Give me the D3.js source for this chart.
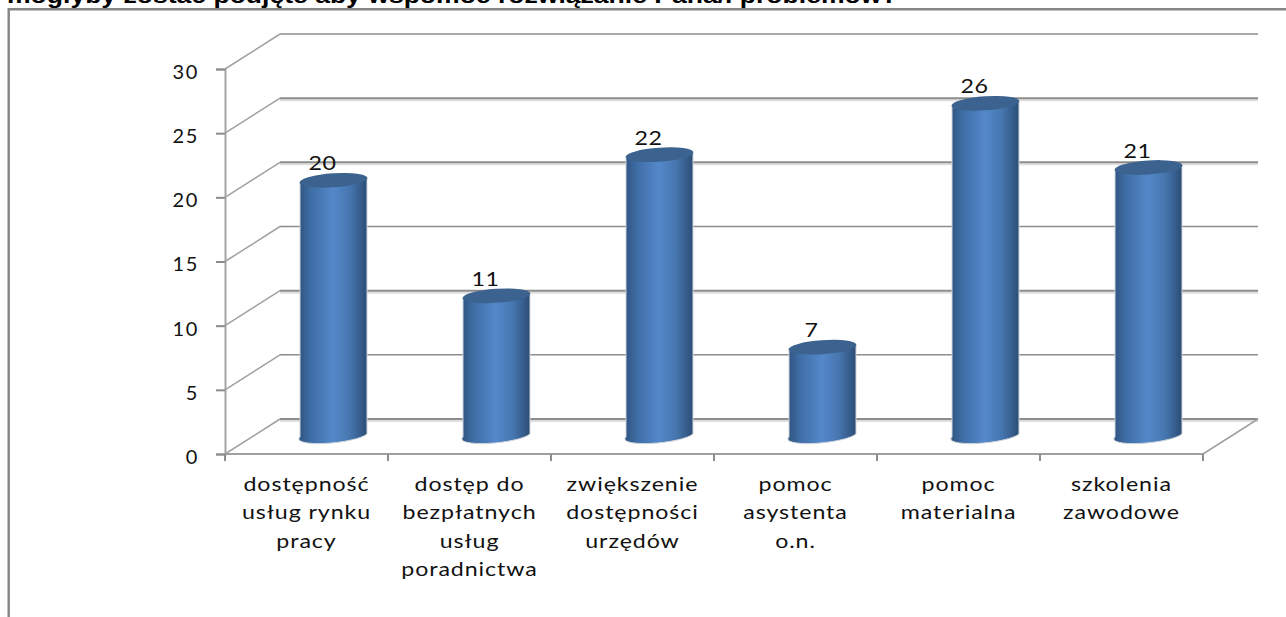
<!DOCTYPE html>
<html>
<head>
<meta charset="utf-8">
<script src="https://cdnjs.cloudflare.com/ajax/libs/d3/7.8.5/d3.min.js"></script>
<style>
  html, body { margin: 0; padding: 0; background: #fff; overflow: hidden; }
  text { font-family: "Lato", "Open Sans", sans-serif; fill: #111; }
</style>
</head>
<body>
<svg id="chart" width="1286" height="617"></svg>
<script>
const categories = [
  ["dostępność", "usług rynku", "pracy"],
  ["dostęp do", "bezpłatnych", "usług", "poradnictwa"],
  ["zwiększenie", "dostępności", "urzędów"],
  ["pomoc", "asystenta", "o.n."],
  ["pomoc", "materialna"],
  ["szkolenia", "zawodowe"]
];
const values = [20, 11, 22, 7, 26, 21];
const yTicks = [0, 5, 10, 15, 20, 25, 30];
const heavyTicks = [0, 10, 20, 25];
const title = "mogłyby zostać podjęte aby wspomóc rozwiązanie Pana/i problemów?";

const svg = d3.select("#chart");
const axisColor = "#8c8c8c";
// depth of the 3d floor
const depthX = 55, depthY = -35;
// the original picture is stretched sideways
const stretch = 1.16;

const x = d3.scaleBand().domain(d3.range(categories.length)).range([225, 1203]);
const y = d3.scaleLinear().domain([0, 30]).range([454, 69]);

// title, clipped by the top of the page
svg.append("text")
    .attr("transform", "translate(7,3) scale(1.18,1)")
    .style("font-family", "Liberation Sans")
    .style("font-weight", "bold")
    .style("font-size", "22.5px")
    .style("fill", "#000")
    .text(title);

// outer frame
svg.append("path")
    .attr("d", "M8.7,617V9.3H1286")
    .attr("fill", "none").attr("stroke", "#868686").attr("stroke-width", 2.4);

// cylinder shading
const defs = svg.append("defs");
const grad = defs.append("linearGradient").attr("id", "cyl");
[[0, "#2f5480"], [0.18, "#3f6ea6"], [0.5, "#5488ca"], [0.75, "#4676af"], [1, "#2c4d76"]]
  .forEach(s => grad.append("stop").attr("offset", s[0]).attr("stop-color", s[1]));

// walls: gridlines on the back and the slanted part on the side
const grid = svg.append("g");
yTicks.forEach(t => {
  const heavy = heavyTicks.includes(t);
  if (heavy) {
    grid.append("line")
        .attr("x1", x.range()[0] + depthX).attr("x2", x.range()[1] + depthX)
        .attr("y1", y(t) + depthY + 2).attr("y2", y(t) + depthY + 2)
        .attr("stroke", "#dedede").attr("stroke-width", 2);
  }
  grid.append("path")
      .attr("d", `M${x.range()[0]},${y(t)}l${depthX},${depthY}`)
      .attr("fill", "none")
      .attr("stroke", "#a0a0a0")
      .attr("stroke-width", 1.5);
  grid.append("line")
      .attr("x1", x.range()[0] + depthX).attr("x2", x.range()[1] + depthX)
      .attr("y1", y(t) + depthY).attr("y2", y(t) + depthY)
      .attr("stroke", axisColor)
      .attr("stroke-width", heavy ? 2 : 1.5);
});
// floor right edge
grid.append("path")
    .attr("d", `M${x.range()[1]},${y(0)}l${depthX},${depthY}`)
    .attr("fill", "none").attr("stroke", "#a0a0a0").attr("stroke-width", 1.5);

// axes
const yAxis = svg.append("g")
    .attr("transform", `translate(${x.range()[0]},0)`)
    .call(d3.axisLeft(y).tickValues(yTicks).tickSize(9).tickPadding(17));
yAxis.select(".domain").attr("stroke", "#a4a4a4").attr("stroke-width", 2);
yAxis.selectAll("line").attr("stroke", axisColor).attr("stroke-width", 2);
yAxis.selectAll("text")
    .attr("dy", "0.47em")
    .style("font-size", "20px")
    .style("letter-spacing", "1.6px");

const xAxis = svg.append("g")
    .attr("transform", `translate(0,${y(0)})`);
xAxis.append("line")
    .attr("x1", x.range()[0]).attr("x2", x.range()[1])
    .attr("stroke", "#a0a0a0").attr("stroke-width", 2);
xAxis.selectAll(".tick").data(d3.range(categories.length + 1)).enter().append("line")
    .attr("class", "tick")
    .attr("x1", d => d < categories.length ? x(d) : x.range()[1])
    .attr("x2", d => d < categories.length ? x(d) : x.range()[1])
    .attr("y1", 0).attr("y2", 7)
    .attr("stroke", axisColor).attr("stroke-width", 2);

// bars
const barW = 67, ry = 7;
const bars = svg.selectAll(".bar").data(values).enter().append("g").attr("class", "bar");
const cx = i => x(i) + x.bandwidth() / 2 + 27;
const baseY = y(0) - 17;  // middle of the floor
const topY = v => y(v) - 17;

bars.append("path")
    .attr("d", (d, i) => {
      const l = cx(i) - barW / 2, r = cx(i) + barW / 2;
      return `M${l},${topY(d) + 2}V${baseY}A${barW / 2},${ry} -6 0 0 ${r},${baseY - 3}V${topY(d) - 2}Z`;
    })
    .attr("fill", "url(#cyl)")
    .attr("stroke", "#cfd4da").attr("stroke-width", 1);

bars.append("ellipse")
    .attr("cx", (d, i) => cx(i)).attr("cy", d => topY(d))
    .attr("rx", barW / 2 + 0.5).attr("ry", ry)
    .attr("transform", (d, i) => `rotate(-4 ${cx(i)} ${topY(d)})`)
    .attr("fill", "#3c638f");

// value labels, they sit left of the cylinder centre
bars.append("text")
    .attr("transform", (d, i) => `translate(${cx(i) - 11},${topY(d) - 10}) scale(${stretch},1)`)
    .attr("text-anchor", "middle")
    .style("font-size", "20px")
    .style("letter-spacing", "0.5px")
    .text(d => d);

// category labels
const labels = svg.selectAll(".cat").data(categories).enter().append("text")
    .attr("class", "cat")
    .attr("text-anchor", "middle")
    .attr("transform", (d, i) => `translate(${x(i) + x.bandwidth() / 2},0) scale(${stretch},1)`)
    .style("font-size", "20px")
    .style("letter-spacing", "0.8px");
labels.each(function(lines) {
  d3.select(this).selectAll("tspan").data(lines).enter().append("tspan")
      .attr("x", 0)
      .attr("y", (l, k) => 491 + k * 28.5)
      .text(l => l);
});
</script>
</body>
</html>
